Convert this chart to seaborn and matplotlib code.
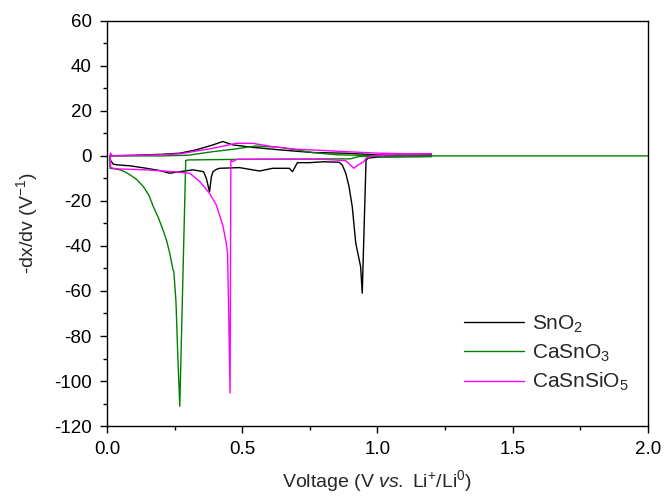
import matplotlib
matplotlib.use("Agg")
import matplotlib.pyplot as plt
from matplotlib.ticker import MultipleLocator
import numpy as np
import pandas as pd
import seaborn as sns

# ---- dx/dV curves: discharge branch (high V -> 0) followed by charge branch (0 -> high V)
sno2_v = [1.20, 1.10, 1.00, 0.965, 0.958, 0.944, 0.938, 0.929, 0.920, 0.907, 0.895,
          0.883, 0.870, 0.858, 0.80, 0.75, 0.704, 0.686, 0.674, 0.662, 0.613, 0.564,
          0.490, 0.416, 0.404, 0.392, 0.386, 0.379, 0.367, 0.357, 0.318, 0.269, 0.232,
          0.195, 0.146, 0.085, 0.040, 0.023, 0.015, 0.012,
          0.010, 0.023, 0.10, 0.20, 0.269, 0.330, 0.392, 0.428, 0.465, 0.539, 0.637,
          0.760, 0.883, 1.006, 1.10, 1.20]
sno2_d = [-0.3, -0.4, -0.5, -1.0, -2.0, -61.0, -49.2, -44.0, -38.8, -22.5, -13.6,
          -7.7, -4.0, -2.8, -2.6, -3.0, -3.0, -7.0, -5.5, -5.5, -5.5, -6.7,
          -5.2, -5.5, -6.0, -7.0, -9.2, -15.9, -9.9, -7.0, -6.2, -7.0, -7.7,
          -6.5, -5.5, -4.4, -4.0, -3.7, -2.3, -2.0,
          0.0, 0.1, 0.3, 0.7, 1.2, 2.7, 4.9, 6.4, 4.9, 3.8, 2.7,
          1.5, 1.2, 0.4, 0.5, 0.5]

casno3_v = [2.00, 1.50, 1.00, 0.93, 0.90, 0.70, 0.50, 0.30, 0.291, 0.269, 0.262,
            0.255, 0.247, 0.244, 0.232, 0.220, 0.207, 0.190, 0.171, 0.155, 0.134,
            0.110, 0.085, 0.065, 0.048, 0.030, 0.011,
            0.010, 0.10, 0.20, 0.30, 0.392, 0.470, 0.515, 0.551, 0.637, 0.699,
            0.760, 0.85, 1.00, 1.20]
casno3_d = [0.0, 0.0, 0.0, -0.3, -1.3, -1.4, -1.5, -1.8, -2.0, -111.2, -90.0,
            -65.0, -51.3, -50.7, -43.3, -37.5, -32.9, -27.5, -22.5, -17.5, -13.6,
            -10.5, -8.4, -7.0, -6.2, -5.8, -5.5,
            0.0, 0.0, 0.0, 0.3, 1.9, 3.0, 3.8, 4.4, 3.8, 2.7,
            1.5, 0.5, 0.1, 0.0]

casnsio5_v = [1.20, 1.10, 1.00, 0.970, 0.958, 0.950, 0.938, 0.926, 0.913, 0.901, 0.883,
              0.80, 0.60, 0.480, 0.465, 0.458, 0.455, 0.446, 0.441, 0.428, 0.404,
              0.379, 0.343, 0.306, 0.244, 0.146, 0.047, 0.023, 0.013,
              0.012, 0.014, 0.020, 0.10, 0.20, 0.269, 0.392, 0.478, 0.539, 0.613,
              0.699, 0.883, 1.006, 1.10, 1.20]
casnsio5_d = [1.0, 0.8, 0.3, -0.5, -1.0, -2.5, -3.4, -4.2, -5.5, -4.2, -2.1,
              -1.5, -1.5, -1.5, -2.5, -2.0, -105.3, -43.2, -38.8, -30.7, -21.8,
              -16.6, -11.4, -7.7, -7.0, -6.2, -5.8, -5.5, -5.0,
              1.2, 1.0, 0.0, 0.2, 0.5, 0.9, 3.4, 5.6, 5.6, 4.1,
              3.0, 1.9, 1.2, 1.0, 1.0]

labels = ["SnO$_2$", "CaSnO$_3$", "CaSnSiO$_5$"]
colors = ["#000000", "#008000", "#ff00ff"]

frames = []
for lab, v, d in zip(labels, [sno2_v, casno3_v, casnsio5_v], [sno2_d, casno3_d, casnsio5_d]):
    frames.append(pd.DataFrame({"voltage": v, "dxdv": d, "sample": lab,
                                "step": np.arange(len(v))}))
df = pd.concat(frames, ignore_index=True)

sns.set_style("ticks")
plt.rcParams["font.family"] = ["Liberation Sans", "DejaVu Sans"]
plt.rcParams["mathtext.fontset"] = "custom"
plt.rcParams["mathtext.rm"] = "Liberation Sans"
plt.rcParams["mathtext.it"] = "Liberation Sans:italic"
plt.rcParams["mathtext.default"] = "regular"
plt.rcParams["axes.unicode_minus"] = False

fig = plt.figure(figsize=(6.65, 4.96), dpi=100)
ax = fig.add_axes([0.161, 0.141, 0.813, 0.817])

sns.lineplot(data=df, x="voltage", y="dxdv", hue="sample", hue_order=labels,
             palette=colors, sort=False, estimator=None, units="sample",
             linewidth=1.0, ax=ax)

ax.set_xlim(0, 2.0)
ax.set_ylim(-120, 60)
ax.xaxis.set_major_locator(MultipleLocator(0.5))
ax.xaxis.set_minor_locator(MultipleLocator(0.25))
ax.yaxis.set_major_locator(MultipleLocator(20))
ax.yaxis.set_minor_locator(MultipleLocator(10))
ax.set_xticklabels([f"{t:.1f}" for t in ax.get_xticks()])
ax.tick_params(which="major", direction="out", length=5, width=1, labelsize=13.5,
               color="black", labelcolor="black")
ax.tick_params(axis="y", which="major", pad=6)
ax.tick_params(axis="x", which="major", pad=6)
ax.tick_params(which="minor", direction="out", length=3, width=1, color="black")
for s in ax.spines.values():
    s.set_color("black")
    s.set_linewidth(1.0)

ax.set_xlabel("Voltage (V $\\mathit{vs.}$ Li$^{+}$/Li$^{0}$)", fontsize=14, labelpad=7)
ax.set_ylabel("-dx/dv (V$^{-1}$)", fontsize=14, labelpad=10)

ax.legend(loc="lower right", bbox_to_anchor=(1.0, 0.035), frameon=False, fontsize=15,
          handlelength=2.9, handletextpad=0.4, labelspacing=0.35)

fig.savefig("out.png", dpi=100)
